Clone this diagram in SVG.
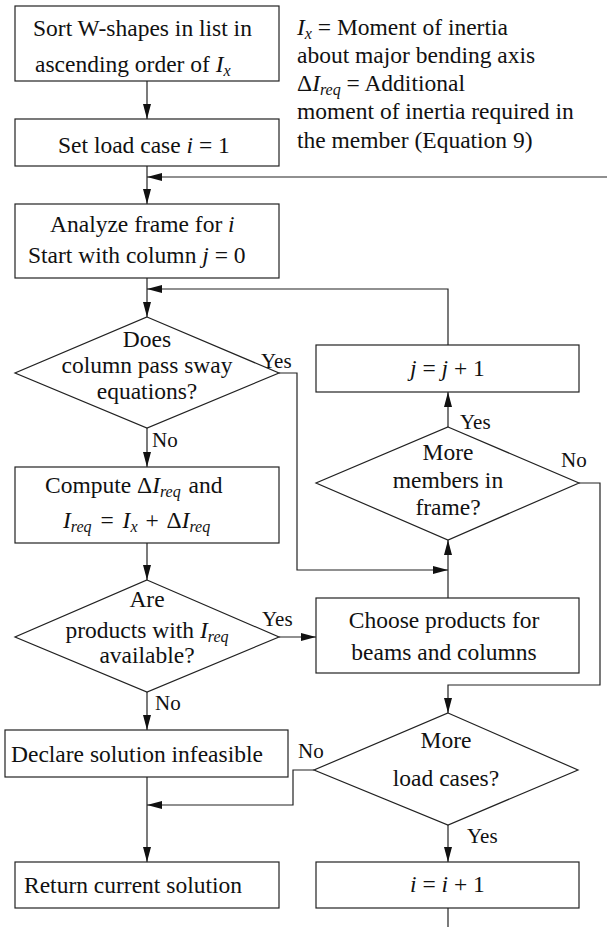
<svg xmlns="http://www.w3.org/2000/svg" width="607" height="927" viewBox="0 0 607 927">
<defs>
<marker id="ah" markerUnits="userSpaceOnUse" markerWidth="15" markerHeight="8" refX="15" refY="4" orient="auto">
<path d="M0,0 L15,4 L0,8 z" fill="#111"/>
</marker>
</defs>
<style>
text{font-family:"Liberation Serif","Times New Roman",serif;font-size:23.5px;fill:#111}
.lbl{font-size:21px}
.m{font-style:italic}
.s{font-style:italic;font-size:16px}
.box,.dia{fill:#fff;stroke:#222;stroke-width:1.2}
.c{fill:none;stroke:#222;stroke-width:1.2}
.ca{fill:none;stroke:#222;stroke-width:1.2;marker-end:url(#ah)}
.mid{text-anchor:middle}
</style>
<rect width="607" height="927" fill="#fff"/>

<g id="connectors">
<line class="ca" x1="147" y1="81" x2="147" y2="119"/>
<line class="ca" x1="147" y1="166" x2="147" y2="204"/>
<line class="ca" x1="607" y1="177" x2="147" y2="177"/>
<line class="ca" x1="147" y1="278" x2="147" y2="317"/>
<polyline class="ca" points="448,345 448,289 147,289"/>
<polyline class="ca" points="279,373 297,373 297,570 448,570"/>
<line class="ca" x1="147" y1="428" x2="147" y2="467"/>
<line class="ca" x1="147" y1="543" x2="147" y2="580"/>
<line class="ca" x1="279" y1="637" x2="316" y2="637"/>
<line class="ca" x1="147" y1="692" x2="147" y2="730"/>
<line class="ca" x1="147" y1="777" x2="147" y2="862"/>
<polyline class="ca" points="314,770 293,770 293,805 147,805"/>
<line class="ca" x1="448" y1="427" x2="448" y2="392"/>
<line class="ca" x1="448" y1="598" x2="448" y2="540"/>
<polyline class="ca" points="579,483 600,483 600,685 448,685 448,713"/>
<line class="ca" x1="448" y1="825" x2="448" y2="862"/>
<line class="c" x1="448" y1="908" x2="448" y2="927"/>
<text class="lbl" x="261" y="368">Yes</text>
<text class="lbl" x="152" y="447">No</text>
<text class="lbl" x="262" y="626">Yes</text>
<text class="lbl" x="155" y="710">No</text>
<text class="lbl" x="298" y="758">No</text>
<text class="lbl" x="460" y="429">Yes</text>
<text class="lbl" x="561" y="467">No</text>
<text class="lbl" x="467" y="843">Yes</text>
</g>

<g id="legend">
<text x="297" y="35"><tspan class="m">I</tspan><tspan class="s" dy="4">x</tspan><tspan dy="-4"> = Moment of inertia</tspan></text>
<text x="297" y="63">about major bending axis</text>
<text x="297" y="91">Δ<tspan class="m">I</tspan><tspan class="s" dy="4">req</tspan><tspan dy="-4"> = Additional</tspan></text>
<text x="297" y="119">moment of inertia required in</text>
<text x="297" y="148">the member (Equation 9)</text>
</g>

<g id="sort">
<rect class="box" x="15" y="6" width="264" height="75"/>
<text x="33" y="35.5">Sort W-shapes in list in</text>
<text x="35" y="72">ascending order of <tspan class="m">I</tspan><tspan class="s" dy="4">x</tspan></text>
</g>

<g id="setload">
<rect class="box" x="15" y="119" width="264" height="47"/>
<text x="58" y="153">Set load case <tspan class="m">i</tspan> = 1</text>
</g>

<g id="analyze">
<rect class="box" x="15" y="204" width="264" height="74"/>
<text x="50" y="232">Analyze frame for <tspan class="m">i</tspan></text>
<text x="28" y="263">Start with column <tspan class="m">j</tspan> = 0</text>
</g>

<g id="sway">
<polygon class="dia" points="147,317 279,373 147,428 15,373"/>
<text class="mid" x="147" y="347">Does</text>
<text class="mid" x="147" y="373">column pass sway</text>
<text class="mid" x="147" y="399">equations?</text>
</g>

<g id="compute">
<rect class="box" x="15" y="467" width="264" height="76"/>
<text x="45" y="493">Compute Δ<tspan class="m">I</tspan><tspan class="s" dy="4">req</tspan><tspan dy="-4" dx="2"> and</tspan></text>
<text x="63" y="528"><tspan class="m">I</tspan><tspan class="s" dy="4">req</tspan><tspan dy="-4" dx="3"> = </tspan><tspan class="m" dx="3">I</tspan><tspan class="s" dy="4">x</tspan><tspan dy="-4" dx="2"> + </tspan><tspan dx="2">Δ</tspan><tspan class="m">I</tspan><tspan class="s" dy="4">req</tspan></text>
</g>

<g id="available">
<polygon class="dia" points="147,580 279,637 147,692 15,637"/>
<text class="mid" x="147" y="607">Are</text>
<text class="mid" x="147" y="638">products with <tspan class="m">I</tspan><tspan class="s" dy="4">req</tspan></text>
<text class="mid" x="147" y="663">available?</text>
</g>

<g id="infeasible">
<rect class="box" x="5" y="730" width="283" height="47"/>
<text x="11" y="762">Declare solution infeasible</text>
</g>

<g id="return">
<rect class="box" x="15" y="862" width="264" height="46"/>
<text x="24" y="893">Return current solution</text>
</g>

<g id="incj">
<rect class="box" x="316" y="345" width="263" height="47"/>
<text x="410" y="376"><tspan class="m">j</tspan> = <tspan class="m">j</tspan> + 1</text>
</g>

<g id="members">
<polygon class="dia" points="448,427 579,483 448,540 316,483"/>
<text class="mid" x="448" y="460">More</text>
<text class="mid" x="448" y="488">members in</text>
<text class="mid" x="448" y="515">frame?</text>
</g>

<g id="choose">
<rect class="box" x="316" y="598" width="263" height="75"/>
<text class="mid" x="444" y="628">Choose products for</text>
<text class="mid" x="444" y="660">beams and columns</text>
</g>

<g id="loadcases">
<polygon class="dia" points="448,713 578,770 448,825 314,770"/>
<text class="mid" x="446" y="748">More</text>
<text class="mid" x="446" y="786">load cases?</text>
</g>

<g id="inci">
<rect class="box" x="316" y="862" width="263" height="46"/>
<text x="410" y="892"><tspan class="m">i</tspan> = <tspan class="m">i</tspan> + 1</text>
</g>
</svg>
